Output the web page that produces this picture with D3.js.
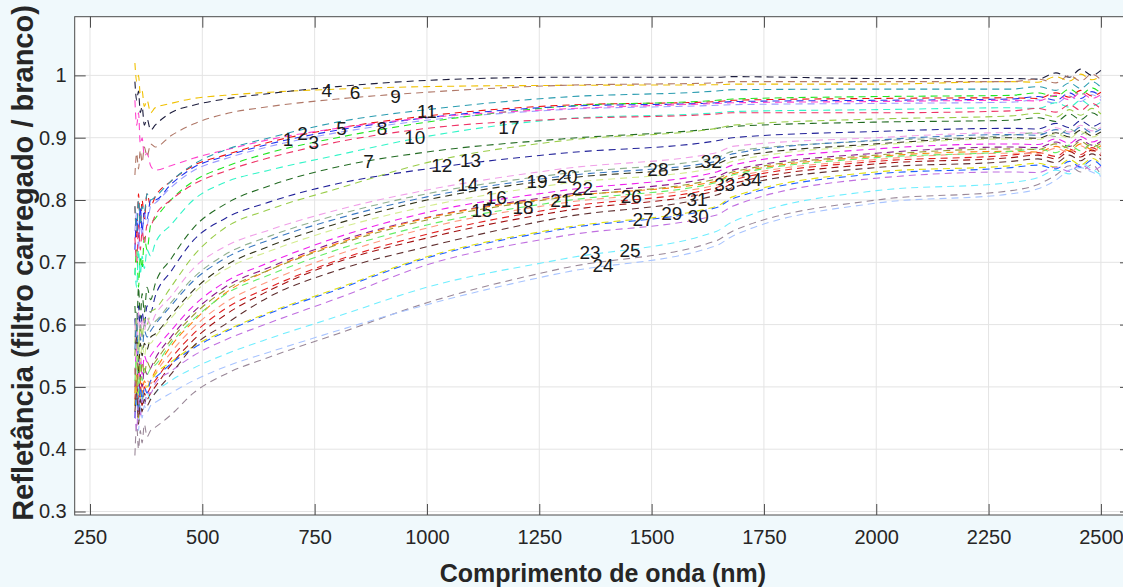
<!DOCTYPE html>
<html>
<head>
<meta charset="utf-8">
<script src="https://cdn.jsdelivr.net/npm/d3@7"></script>
<style>
    body { margin: 0; background: #f0f9fc; }
    svg { display: block; }
</style>
</head>
<body>
<svg id="chart" width="1123" height="587"></svg>
<script>
var wavelengths = [350, 354, 358, 362, 366, 371, 377, 385, 395,
                   430, 480, 550, 650, 800, 1000, 1300, 1645, 1680, 2000, 2300,
                   2360, 2400, 2430, 2455, 2480, 2500];

// reflectance per sample, named by the number written on the chart
var r1  = [0.75, 0.78, 0.72, 0.77, 0.74, 0.78, 0.76, 0.79, 0.795, 0.82, 0.847, 0.866, 0.886, 0.908, 0.928, 0.945, 0.952, 0.953, 0.955, 0.957, 0.961, 0.955, 0.967, 0.958, 0.969, 0.96];
var r2  = [0.79, 0.74, 0.81, 0.76, 0.8, 0.77, 0.81, 0.79, 0.805, 0.83, 0.855, 0.872, 0.893, 0.915, 0.935, 0.952, 0.958, 0.96, 0.963, 0.964, 0.963, 0.972, 0.965, 0.976, 0.967, 0.973];
var r3  = [0.68, 0.72, 0.66, 0.71, 0.69, 0.74, 0.72, 0.76, 0.77, 0.8, 0.83, 0.853, 0.876, 0.9, 0.925, 0.95, 0.96, 0.962, 0.966, 0.968, 0.972, 0.966, 0.978, 0.969, 0.98, 0.971];
var r4  = [1.02, 0.99, 1.0, 0.97, 0.975, 0.95, 0.96, 0.94, 0.948, 0.955, 0.963, 0.968, 0.973, 0.978, 0.982, 0.984, 0.985, 0.986, 0.986, 0.99, 0.989, 0.998, 0.991, 1.002, 0.993, 0.999];
var r5  = [0.72, 0.77, 0.74, 0.79, 0.75, 0.78, 0.77, 0.8, 0.8, 0.825, 0.852, 0.87, 0.89, 0.912, 0.932, 0.95, 0.956, 0.958, 0.96, 0.962, 0.966, 0.96, 0.972, 0.963, 0.974, 0.965];
var r6  = [0.99, 0.96, 0.975, 0.94, 0.95, 0.92, 0.93, 0.912, 0.92, 0.94, 0.952, 0.962, 0.971, 0.982, 0.992, 0.997, 0.997, 0.998, 0.995, 0.995, 0.994, 1.004, 0.997, 1.01, 1.0, 1.008];
var r7  = [0.63, 0.59, 0.66, 0.61, 0.65, 0.62, 0.66, 0.64, 0.665, 0.705, 0.755, 0.793, 0.823, 0.853, 0.877, 0.898, 0.915, 0.918, 0.925, 0.928, 0.932, 0.926, 0.938, 0.929, 0.94, 0.931];
var r8  = [0.96, 0.92, 0.94, 0.89, 0.9, 0.87, 0.875, 0.855, 0.848, 0.855, 0.867, 0.88, 0.897, 0.915, 0.932, 0.946, 0.955, 0.956, 0.958, 0.96, 0.959, 0.968, 0.961, 0.972, 0.963, 0.969];
var r9  = [0.84, 0.875, 0.85, 0.88, 0.86, 0.885, 0.87, 0.89, 0.885, 0.903, 0.922, 0.938, 0.95, 0.962, 0.973, 0.984, 0.988, 0.99, 0.99, 0.99, 0.994, 0.988, 1.0, 0.991, 1.002, 0.993];
var r10 = [0.69, 0.66, 0.72, 0.68, 0.71, 0.69, 0.72, 0.71, 0.73, 0.76, 0.8, 0.828, 0.848, 0.872, 0.902, 0.93, 0.94, 0.942, 0.945, 0.948, 0.947, 0.956, 0.949, 0.96, 0.951, 0.957];
var r11 = [0.79, 0.75, 0.8, 0.76, 0.79, 0.78, 0.81, 0.8, 0.805, 0.83, 0.857, 0.88, 0.9, 0.925, 0.945, 0.965, 0.975, 0.977, 0.978, 0.978, 0.982, 0.976, 0.988, 0.979, 0.99, 0.981];
var r12 = [0.61, 0.57, 0.63, 0.59, 0.62, 0.6, 0.63, 0.62, 0.645, 0.685, 0.735, 0.77, 0.797, 0.826, 0.85, 0.875, 0.895, 0.9, 0.91, 0.915, 0.914, 0.923, 0.916, 0.927, 0.918, 0.924];
var r13 = [0.57, 0.61, 0.56, 0.6, 0.58, 0.61, 0.6, 0.62, 0.625, 0.66, 0.71, 0.755, 0.785, 0.818, 0.86, 0.895, 0.915, 0.92, 0.93, 0.935, 0.939, 0.933, 0.945, 0.936, 0.947, 0.938];
var r14 = [0.6, 0.56, 0.62, 0.58, 0.61, 0.59, 0.61, 0.6, 0.615, 0.645, 0.69, 0.725, 0.752, 0.784, 0.816, 0.85, 0.876, 0.886, 0.9, 0.908, 0.907, 0.916, 0.909, 0.92, 0.911, 0.917];
var r15 = [0.48, 0.51, 0.46, 0.5, 0.48, 0.5, 0.49, 0.5, 0.51, 0.545, 0.585, 0.625, 0.66, 0.703, 0.745, 0.788, 0.82, 0.832, 0.862, 0.872, 0.876, 0.87, 0.882, 0.873, 0.884, 0.875];
var r16 = [0.52, 0.56, 0.5, 0.55, 0.52, 0.55, 0.54, 0.55, 0.56, 0.59, 0.63, 0.668, 0.7, 0.74, 0.78, 0.815, 0.845, 0.856, 0.882, 0.89, 0.889, 0.898, 0.891, 0.902, 0.893, 0.899];
var r17 = [0.74, 0.7, 0.76, 0.72, 0.75, 0.73, 0.76, 0.76, 0.775, 0.8, 0.825, 0.846, 0.868, 0.893, 0.915, 0.93, 0.938, 0.94, 0.94, 0.943, 0.947, 0.941, 0.953, 0.944, 0.955, 0.946];
var r18 = [0.5, 0.47, 0.52, 0.48, 0.51, 0.49, 0.51, 0.505, 0.52, 0.555, 0.595, 0.635, 0.67, 0.712, 0.755, 0.795, 0.824, 0.836, 0.865, 0.875, 0.874, 0.883, 0.876, 0.887, 0.878, 0.884];
var r19 = [0.58, 0.62, 0.56, 0.6, 0.58, 0.6, 0.59, 0.6, 0.605, 0.635, 0.675, 0.712, 0.742, 0.776, 0.81, 0.842, 0.868, 0.878, 0.895, 0.904, 0.908, 0.902, 0.914, 0.905, 0.916, 0.907];
var r20 = [0.56, 0.6, 0.54, 0.58, 0.56, 0.59, 0.58, 0.59, 0.6, 0.63, 0.67, 0.706, 0.736, 0.77, 0.805, 0.838, 0.862, 0.874, 0.896, 0.905, 0.904, 0.913, 0.906, 0.917, 0.908, 0.914];
var r21 = [0.47, 0.5, 0.45, 0.49, 0.47, 0.49, 0.48, 0.49, 0.5, 0.535, 0.575, 0.615, 0.655, 0.7, 0.739, 0.782, 0.815, 0.826, 0.858, 0.868, 0.872, 0.866, 0.878, 0.869, 0.88, 0.871];
var r22 = [0.5, 0.54, 0.48, 0.52, 0.5, 0.53, 0.52, 0.53, 0.545, 0.58, 0.62, 0.66, 0.692, 0.733, 0.772, 0.808, 0.838, 0.848, 0.875, 0.885, 0.884, 0.893, 0.886, 0.897, 0.888, 0.894];
var r23 = [0.39, 0.44, 0.4, 0.43, 0.41, 0.44, 0.42, 0.43, 0.435, 0.455, 0.49, 0.52, 0.548, 0.585, 0.635, 0.69, 0.735, 0.75, 0.8, 0.815, 0.825, 0.84, 0.855, 0.845, 0.857, 0.84];
var r24 = [0.45, 0.48, 0.43, 0.47, 0.45, 0.47, 0.46, 0.47, 0.475, 0.49, 0.51, 0.532, 0.556, 0.59, 0.632, 0.683, 0.727, 0.742, 0.795, 0.81, 0.818, 0.832, 0.848, 0.852, 0.845, 0.838];
var r25 = [0.5, 0.47, 0.5, 0.46, 0.49, 0.47, 0.49, 0.48, 0.49, 0.51, 0.53, 0.552, 0.578, 0.613, 0.66, 0.705, 0.75, 0.765, 0.815, 0.828, 0.836, 0.848, 0.842, 0.858, 0.85, 0.84];
var r26 = [0.49, 0.52, 0.47, 0.51, 0.49, 0.51, 0.5, 0.51, 0.525, 0.565, 0.605, 0.65, 0.688, 0.73, 0.771, 0.805, 0.83, 0.842, 0.87, 0.878, 0.877, 0.886, 0.879, 0.89, 0.881, 0.887];
var r27 = [0.47, 0.5, 0.45, 0.49, 0.48, 0.5, 0.5, 0.51, 0.52, 0.54, 0.565, 0.59, 0.62, 0.658, 0.709, 0.755, 0.79, 0.805, 0.845, 0.855, 0.859, 0.853, 0.865, 0.856, 0.867, 0.858];
var r28 = [0.55, 0.58, 0.52, 0.57, 0.55, 0.57, 0.56, 0.58, 0.585, 0.615, 0.655, 0.694, 0.726, 0.762, 0.8, 0.834, 0.858, 0.868, 0.89, 0.9, 0.899, 0.908, 0.901, 0.912, 0.903, 0.909];
var r29 = [0.45, 0.49, 0.46, 0.5, 0.48, 0.5, 0.49, 0.51, 0.515, 0.537, 0.562, 0.588, 0.618, 0.656, 0.707, 0.753, 0.788, 0.802, 0.842, 0.852, 0.856, 0.85, 0.862, 0.853, 0.864, 0.855];
var r30 = [0.46, 0.43, 0.48, 0.45, 0.48, 0.47, 0.49, 0.49, 0.505, 0.525, 0.55, 0.575, 0.603, 0.642, 0.696, 0.742, 0.776, 0.79, 0.835, 0.845, 0.844, 0.853, 0.846, 0.857, 0.848, 0.854];
var r31 = [0.46, 0.49, 0.44, 0.48, 0.46, 0.48, 0.47, 0.48, 0.49, 0.52, 0.565, 0.6, 0.645, 0.687, 0.725, 0.772, 0.808, 0.82, 0.852, 0.862, 0.866, 0.86, 0.872, 0.863, 0.874, 0.865];
var r32 = [0.56, 0.53, 0.58, 0.54, 0.57, 0.55, 0.57, 0.57, 0.58, 0.61, 0.65, 0.688, 0.718, 0.754, 0.79, 0.826, 0.852, 0.862, 0.888, 0.898, 0.897, 0.906, 0.899, 0.91, 0.901, 0.907];
var r33 = [0.51, 0.55, 0.49, 0.54, 0.51, 0.53, 0.52, 0.53, 0.535, 0.57, 0.608, 0.648, 0.68, 0.72, 0.76, 0.798, 0.828, 0.84, 0.868, 0.878, 0.882, 0.876, 0.888, 0.879, 0.89, 0.881];
var r34 = [0.53, 0.5, 0.55, 0.51, 0.54, 0.52, 0.54, 0.53, 0.54, 0.575, 0.615, 0.655, 0.688, 0.728, 0.768, 0.804, 0.834, 0.845, 0.872, 0.882, 0.881, 0.89, 0.883, 0.894, 0.885, 0.891];

var samples = [r1, r2, r3, r4, r5, r6, r7, r8, r9, r10, r11, r12, r13, r14, r15, r16, r17,
               r18, r19, r20, r21, r22, r23, r24, r25, r26, r27, r28, r29, r30, r31, r32, r33, r34];

// where each number sits (wavelength, reflectance)
var labelWl  = [691, 723, 748, 777, 810, 840, 870, 900, 930, 973, 1000, 1033, 1097, 1091, 1122, 1154, 1182,
                1214, 1245, 1312, 1298, 1346, 1363, 1392, 1452, 1455, 1481, 1514, 1545, 1604, 1601, 1633, 1663, 1722];
var labelVal = [0.898, 0.907, 0.893, 0.977, 0.916, 0.973, 0.862, 0.916, 0.967, 0.901, 0.943, 0.856, 0.864, 0.826, 0.784, 0.805, 0.917,
                0.789, 0.831, 0.839, 0.8, 0.819, 0.717, 0.695, 0.72, 0.806, 0.77, 0.849, 0.779, 0.774, 0.802, 0.863, 0.826, 0.834];

var xTicks = [250, 500, 750, 1000, 1250, 1500, 1750, 2000, 2250, 2500];
var yTicks = [0.3, 0.4, 0.5, 0.6, 0.7, 0.8, 0.9, 1.0];
var yTickLabels = ["0.3", "0.4", "0.5", "0.6", "0.7", "0.8", "0.9", "1"];

var colors = ["#9c9cff", "#ee1111", "#22e622", "#f0c000", "#2233ee", "#1c1c3c", "#236b23", "#ff44cc", "#b07868",
              "#33f5c8", "#2a9cb0", "#222299", "#9acd4a", "#f0a0e8", "#e02020", "#ee22ee", "#ee3366", "#ff9a80",
              "#8fb08f", "#3a78c0", "#a01010", "#8a1a8a", "#9a8898", "#a8c4ff", "#70eeff", "#ff8010", "#e0e010",
              "#33331a", "#2060ff", "#c070e0", "#603030", "#d4ec90", "#66ee66", "#9a9a30"];

var svg = d3.select("#chart");
var box = {left: 74.7, right: 1131, top: 16.7, bottom: 515};

var x = d3.scaleLinear().domain([216, 2567]).range([box.left, box.right]);
var y = d3.scaleLinear().domain([0.2944, 1.0942]).range([box.bottom, box.top]);

svg.append("rect")
    .attr("x", box.left).attr("y", box.top)
    .attr("width", box.right - box.left).attr("height", box.bottom - box.top)
    .attr("fill", "#fff");

svg.append("defs").append("clipPath").attr("id", "plotclip")
    .append("rect")
    .attr("x", box.left).attr("y", box.top)
    .attr("width", box.right - box.left).attr("height", box.bottom - box.top);

// grid
svg.append("g").selectAll("line").data(xTicks).enter().append("line")
    .attr("x1", function(d){ return x(d); }).attr("x2", function(d){ return x(d); })
    .attr("y1", box.top).attr("y2", box.bottom)
    .attr("stroke", "#e4e4e4").attr("stroke-width", 1);
svg.append("g").selectAll("line").data(yTicks).enter().append("line")
    .attr("x1", box.left).attr("x2", box.right)
    .attr("y1", function(d){ return y(d); }).attr("y2", function(d){ return y(d); })
    .attr("stroke", "#e4e4e4").attr("stroke-width", 1);

// curves
var line = d3.line()
    .x(function(d, i){ return x(wavelengths[i]); })
    .y(function(d){ return y(d); })
    .curve(d3.curveMonotoneX);

svg.append("g").attr("clip-path", "url(#plotclip)")
    .selectAll("path").data(samples).enter().append("path")
    .attr("d", line)
    .attr("fill", "none")
    .attr("stroke", function(d, i){ return colors[i]; })
    .attr("stroke-width", 1.1)
    .attr("stroke-dasharray", "7,5");

// sample numbers
svg.append("g").selectAll("text").data(labelWl).enter().append("text")
    .attr("x", function(d){ return x(d); })
    .attr("y", function(d, i){ return y(labelVal[i]); })
    .attr("dy", "0.36em")
    .attr("text-anchor", "middle")
    .attr("font-family", "Liberation Sans, Arial, sans-serif")
    .attr("font-size", 19)
    .attr("fill", "#1a1a1a")
    .text(function(d, i){ return i + 1; });

// axes, ticks pointing inwards like the original
var fontAxis = "Liberation Sans, Arial, sans-serif";
var axisColor = "#4a4a4a";

var gx = svg.append("g").attr("transform", "translate(0," + box.bottom + ")")
    .call(d3.axisBottom(x).tickValues(xTicks).tickSize(-11).tickPadding(15).tickFormat(d3.format("d")));
var gy = svg.append("g").attr("transform", "translate(" + box.left + ",0)")
    .call(d3.axisLeft(y).tickValues(yTicks).tickSize(-11).tickPadding(8)
        .tickFormat(function(d, i){ return yTickLabels[i]; }));
var gt = svg.append("g").attr("transform", "translate(0," + box.top + ")")
    .call(d3.axisTop(x).tickValues(xTicks).tickSize(-11).tickFormat(""));
var gr = svg.append("g").attr("transform", "translate(" + box.right + ",0)")
    .call(d3.axisRight(y).tickValues(yTicks).tickSize(-11).tickFormat(""));

[gx, gy, gt, gr].forEach(function(g){
    g.select(".domain").remove();
    g.selectAll("line").attr("stroke", axisColor);
    g.selectAll("text").attr("fill", "#262626").attr("font-size", 20).attr("font-family", fontAxis);
});

svg.append("rect")
    .attr("x", box.left).attr("y", box.top)
    .attr("width", box.right - box.left).attr("height", box.bottom - box.top)
    .attr("fill", "none").attr("stroke", axisColor).attr("stroke-width", 1);

svg.append("text")
    .attr("x", 603).attr("y", 582)
    .attr("text-anchor", "middle")
    .attr("font-family", fontAxis).attr("font-weight", "bold").attr("font-size", 25)
    .attr("fill", "#262626")
    .text("Comprimento de onda (nm)");

svg.append("text")
    .attr("transform", "translate(33,263) rotate(-90)")
    .attr("text-anchor", "middle")
    .attr("font-family", fontAxis).attr("font-weight", "bold").attr("font-size", 29)
    .attr("fill", "#262626")
    .text("Refletância (filtro carregado / branco)");
</script>
</body>
</html>
